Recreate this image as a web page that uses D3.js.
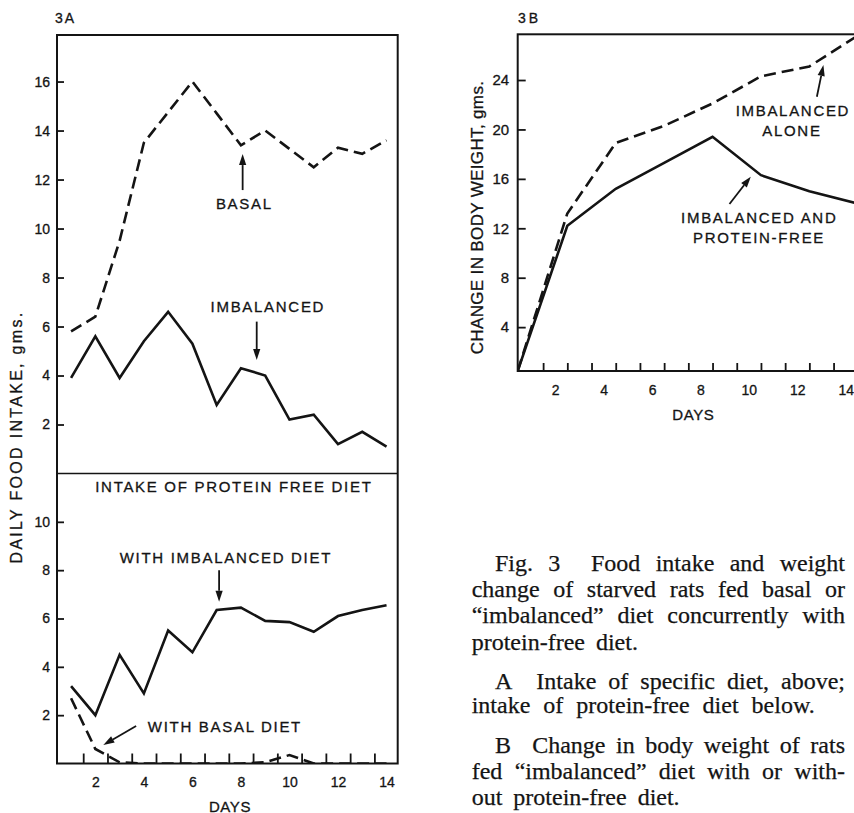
<!DOCTYPE html>
<html>
<head>
<meta charset="utf-8">
<script src="https://cdn.jsdelivr.net/npm/d3@7"></script>
<style>
  body { margin: 0; background: #fff; }
  svg { display: block; }
</style>
</head>
<body>
<svg id="fig" width="854" height="813"></svg>
<script>
// ---------------- data ----------------
// Fig. 3A: daily food intake (g), days 1-14
const days = [1, 2, 3, 4, 5, 6, 7, 8, 9, 10, 11, 12, 13, 14];
const basalIntake      = [5.8, 6.4, 9.5, 13.5, 14.75, 16.0, 14.7, 13.4, 14.0, 13.25, 12.5, 13.3, 13.05, 13.6];
const imbalancedIntake = [3.9, 5.6, 3.9, 5.4, 6.6, 5.3, 2.8, 4.3, 4.0, 2.2, 2.4, 1.2, 1.7, 1.1];
// intake of protein-free diet offered alongside each diet
const pfWithImbalanced = [3.2, 2.0, 4.5, 2.9, 5.5, 4.6, 6.35, 6.45, 5.9, 5.85, 5.45, 6.1, 6.35, 6.55];
const pfWithBasal      = [2.7, 0.6, 0.05, 0, 0, 0, 0, 0, 0.05, 0.35, 0, 0, 0, 0];

// Fig. 3B: change in body weight (g) at each weighing
const weighDays           = [0.45, 2.5, 4.5, 6.5, 8.5, 10.5, 12.5, 14.5];
const gainImbalancedAlone = [0.45, 13.2, 18.9, 20.3, 22.1, 24.3, 25.1, 27.6];
const gainImbalancedPF    = [0.45, 12.2, 15.2, 17.3, 19.4, 16.3, 15.0, 14.0];

// axis ticks
const dayLabels        = [2, 4, 6, 8, 10, 12, 14];
const dayMarks         = [1.5, 2.5, 3.5, 4.5, 5.5, 6.5, 7.5, 8.5, 9.5, 10.5, 11.5, 12.5, 13.5];
const upperIntakeTicks = [2, 4, 6, 8, 10, 12, 14, 16];
const lowerIntakeTicks = [2, 4, 6, 8, 10];
const gainTicks        = [4, 8, 12, 16, 20, 24];

// legend caption, one entry per printed line
const captionLines = [
  { text: "Fig. 3  Food intake and weight", indent: true, justify: true },
  { text: "change of starved rats fed basal or", justify: true },
  { text: "\u201Cimbalanced\u201D diet concurrently with", justify: true },
  { text: "protein-free diet.", justify: false },
  { text: "A  Intake of specific diet, above;", indent: true, justify: true },
  { text: "intake of protein-free diet below.", justify: false, gap: 13 },
  { text: "B  Change in body weight of rats", indent: true, justify: true },
  { text: "fed \u201Cimbalanced\u201D diet with or with-", justify: true },
  { text: "out  protein-free  diet.", justify: false }
];

// ---------------- drawing ----------------
const INK = "#141414";
const SANS = "'Liberation Sans', Arial, sans-serif";
const svg = d3.select("#fig");
const zip = (xs, ys) => xs.map((x, i) => ({ x, y: ys[i] }));

function styleAxis(g, fs) {
  g.select(".domain").remove();
  g.attr("font-family", null).attr("font-size", null);
  g.selectAll(".tick line").attr("stroke", INK).attr("stroke-width", 1.8);
  g.selectAll(".tick text").attr("fill", INK).attr("font-family", SANS).attr("font-size", fs)
    .attr("stroke", INK).attr("stroke-width", 0.3);
}

function arrow(g, x1, y1, x2, y2) {
  const a = Math.atan2(y2 - y1, x2 - x1), L = 11, W = 3.6;
  const bx = x2 - L * Math.cos(a), by = y2 - L * Math.sin(a);
  g.append("line").attr("x1", x1).attr("y1", y1).attr("x2", bx).attr("y2", by)
    .attr("stroke", INK).attr("stroke-width", 1.8);
  g.append("path")
    .attr("d", `M${x2},${y2}L${bx + W * Math.sin(a)},${by - W * Math.cos(a)}L${bx - W * Math.sin(a)},${by + W * Math.cos(a)}Z`)
    .attr("fill", INK);
}

function label(g, text, x, y, opts = {}) {
  return g.append("text").attr("x", x).attr("y", y)
    .attr("text-anchor", opts.anchor || "middle")
    .attr("font-family", SANS).attr("font-size", opts.size || 15)
    .attr("letter-spacing", opts.ls != null ? opts.ls : 1.7)
    .attr("fill", INK).attr("stroke", INK).attr("stroke-width", 0.3)
    .text(text);
}

// ---------- Panel 3A ----------
const A = { left: 57, right: 397.7, top: 35, mid: 473.5, bottom: 763.5 };
const xA = d3.scaleLinear().domain([0.42, 14.46]).range([A.left, A.right]);
const yUpper = d3.scaleLinear().domain([0, 17.9]).range([A.mid, A.top]);
const yLower = d3.scaleLinear().domain([0, 12]).range([A.bottom, A.mid]);

const gA = svg.append("g");
const defs = svg.append("defs");
defs.append("clipPath").attr("id", "clipLower")
  .append("rect").attr("x", A.left).attr("y", A.mid).attr("width", A.right - A.left).attr("height", A.bottom - A.mid);

// upper panel: intake of the specific diet
const lineUpper = d3.line().x(d => xA(d.x)).y(d => yUpper(d.y));
gA.append("path").datum(zip(days, basalIntake)).attr("d", lineUpper)
  .attr("fill", "none").attr("stroke", INK).attr("stroke-width", 2.6).attr("stroke-dasharray", "12,6");
gA.append("path").datum(zip(days, imbalancedIntake)).attr("d", lineUpper)
  .attr("fill", "none").attr("stroke", INK).attr("stroke-width", 2.6);

// lower panel: intake of protein-free diet
const lineLower = d3.line().x(d => xA(d.x)).y(d => yLower(d.y));
const gLow = gA.append("g").attr("clip-path", "url(#clipLower)");
gLow.append("path").datum(zip(days, pfWithBasal)).attr("d", lineLower)
  .attr("fill", "none").attr("stroke", INK).attr("stroke-width", 2.6).attr("stroke-dasharray", "12,6");
gLow.append("path").datum(zip(days, pfWithImbalanced)).attr("d", lineLower)
  .attr("fill", "none").attr("stroke", INK).attr("stroke-width", 2.6);

// frame and divider
gA.append("rect").attr("x", A.left).attr("y", A.top).attr("width", A.right - A.left).attr("height", A.bottom - A.top)
  .attr("fill", "none").attr("stroke", INK).attr("stroke-width", 2);
gA.append("line").attr("x1", A.left).attr("x2", A.right).attr("y1", A.mid).attr("y2", A.mid)
  .attr("stroke", INK).attr("stroke-width", 1.5);

// axes
gA.append("g").attr("transform", `translate(${A.left},0)`)
  .call(d3.axisLeft(yUpper).tickValues(upperIntakeTicks).tickSize(-7).tickPadding(7).tickFormat(d3.format("d")))
  .call(g => styleAxis(g, 14));
gA.append("g").attr("transform", `translate(${A.left},0)`)
  .call(d3.axisLeft(yLower).tickValues(lowerIntakeTicks).tickSize(-7).tickPadding(7).tickFormat(d3.format("d")))
  .call(g => styleAxis(g, 14));
gA.append("g").attr("transform", `translate(0,${A.bottom})`)
  .call(d3.axisBottom(xA).tickValues(dayMarks).tickSize(-10).tickFormat(""))
  .call(g => styleAxis(g, 14));
gA.append("g").attr("transform", `translate(0,${A.bottom})`)
  .call(d3.axisBottom(xA).tickValues(dayLabels).tickSize(0).tickPadding(13.5).tickFormat(d3.format("d")))
  .call(g => { styleAxis(g, 14); g.selectAll(".tick line").remove(); });

// titles
label(gA, "3A", 55, 22.5, { anchor: "start", size: 14, ls: 2 });
label(gA, "DAYS", 230, 811.5, { ls: 0.6 });
label(gA, "DAILY FOOD INTAKE, gms.", 0, 0, { size: 16, ls: 2.3 })
  .attr("transform", "translate(21.5,437) rotate(-90)");

// annotations (placed in data units)
label(gA, "BASAL", xA(8.14), yUpper(10.78));
arrow(gA, xA(8.07), yUpper(11.57), xA(8.07), yUpper(13.04));
label(gA, "IMBALANCED", xA(9.11), yUpper(6.6));
arrow(gA, xA(8.65), yUpper(6.2), xA(8.65), yUpper(4.63));
label(gA, "INTAKE OF PROTEIN FREE DIET", xA(7.71), yLower(11.22));
label(gA, "WITH IMBALANCED DIET", xA(7.38), yLower(8.28));
arrow(gA, xA(7.1), yLower(8.0), xA(7.1), yLower(6.69));
label(gA, "WITH BASAL DIET", xA(7.34), yLower(1.32));
arrow(gA, xA(3.68), yLower(1.55), xA(2.33), yLower(0.77));

// ---------- Panel 3B ----------
const B = { left: 517.7, right: 866, top: 34.3, bottom: 371 };
const xB = d3.scaleLinear().domain([0.45, 14.84]).range([B.left, B.right]);
const yB = d3.scaleLinear().domain([0.45, 27.7]).range([B.bottom, B.top]);

const gB = svg.append("g");
defs.append("clipPath").attr("id", "clipB")
  .append("rect").attr("x", B.left).attr("y", B.top).attr("width", B.right - B.left).attr("height", B.bottom - B.top);

const lineB = d3.line().x(d => xB(d.x)).y(d => yB(d.y));
const gBl = gB.append("g").attr("clip-path", "url(#clipB)");
gBl.append("path").datum(zip(weighDays, gainImbalancedAlone)).attr("d", lineB)
  .attr("fill", "none").attr("stroke", INK).attr("stroke-width", 2.6).attr("stroke-dasharray", "12,6");
gBl.append("path").datum(zip(weighDays, gainImbalancedPF)).attr("d", lineB)
  .attr("fill", "none").attr("stroke", INK).attr("stroke-width", 2.6);

gB.append("rect").attr("x", B.left).attr("y", B.top).attr("width", B.right - B.left).attr("height", B.bottom - B.top)
  .attr("fill", "none").attr("stroke", INK).attr("stroke-width", 2);

gB.append("g").attr("transform", `translate(${B.left},0)`)
  .call(d3.axisLeft(yB).tickValues(gainTicks).tickSize(-8).tickPadding(8.5).tickFormat(d3.format("d")))
  .call(g => styleAxis(g, 15));
gB.append("g").attr("transform", `translate(0,${B.bottom})`)
  .call(d3.axisBottom(xB).tickValues(dayMarks).tickSize(-8).tickFormat(""))
  .call(g => styleAxis(g, 14));
gB.append("g").attr("transform", `translate(0,${B.bottom})`)
  .call(d3.axisBottom(xB).tickValues(dayLabels).tickSize(0).tickPadding(14).tickFormat(d3.format("d")))
  .call(g => { styleAxis(g, 14); g.selectAll(".tick line").remove(); });

label(gB, "3B", 518, 23, { anchor: "start", size: 14, ls: 3 });
label(gB, "DAYS", 693.3, 420, { ls: 0.6 });
label(gB, "CHANGE IN BODY WEIGHT, gms.", 0, 0, { size: 17, ls: 0.35 })
  .attr("transform", "translate(483,217.5) rotate(-90)");

label(gB, "IMBALANCED", xB(11.82), yB(21.09));
label(gB, "ALONE", xB(11.78), yB(19.47));
arrow(gB, xB(12.81), yB(22.65), xB(13.08), yB(25.21));
label(gB, "IMBALANCED AND", xB(10.43), yB(12.45));
label(gB, "PROTEIN-FREE", xB(10.42), yB(10.83));
arrow(gB, xB(9.2), yB(13.97), xB(10.08), yB(16.18));

// ---------- caption ----------
const cap = { left: 471.7, indent: 495, right: 845 };
const capBaselines = [570.7, 596.5, 622.7, 650, 688.5, 713, 753.3, 779, 805];
const gC = svg.append("g").attr("font-family", "'Liberation Serif', 'Times New Roman', serif")
  .attr("font-size", 24).attr("fill", INK).attr("stroke", INK).attr("stroke-width", 0.25);

captionLines.forEach((ln, i) => {
  const x0 = ln.indent ? cap.indent : cap.left;
  // split into words, counting runs of spaces as gap weights
  const parts = ln.text.split(/( +)/).filter(s => s.length);
  const words = [], gaps = [];
  parts.forEach(p => { if (p.trim().length) words.push(p); else gaps.push(p.length); });
  const t = gC.append("text").attr("y", capBaselines[i]);
  const spans = words.map(w => t.append("tspan").text(w));
  const widths = spans.map(s => s.node().getComputedTextLength());
  const total = d3.sum(widths), units = d3.sum(gaps);
  const unit = ln.justify ? (cap.right - x0 - total) / units : (ln.gap || 11) / (units / gaps.length || 1);
  let x = x0;
  spans.forEach((s, k) => {
    s.attr("x", x);
    x += widths[k] + (k < gaps.length ? gaps[k] * unit : 0);
  });
});
</script>
</body>
</html>
